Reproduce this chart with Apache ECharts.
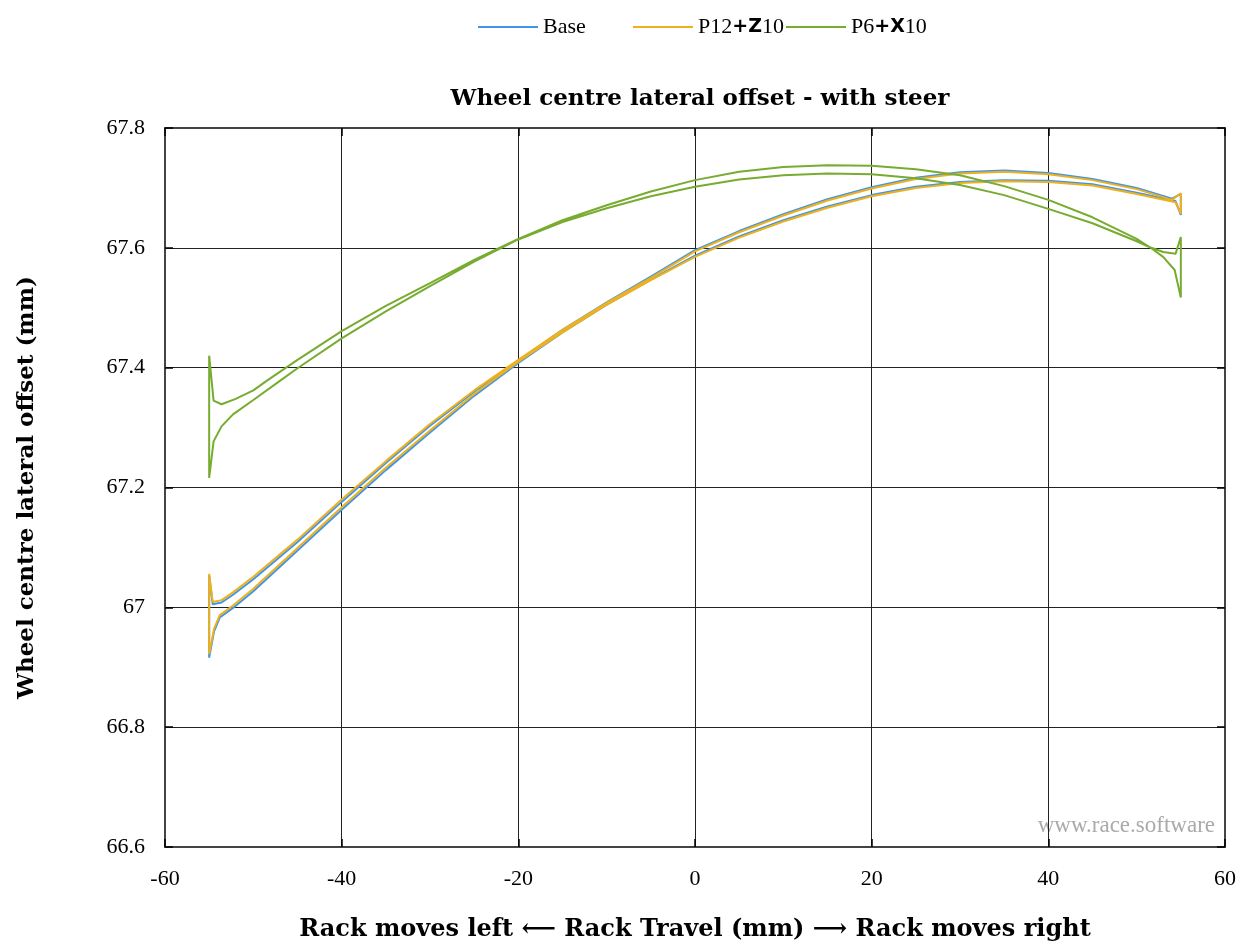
<!DOCTYPE html>
<html>
<head>
<meta charset="utf-8">
<script src="https://cdn.jsdelivr.net/npm/echarts@6/dist/echarts.min.js"></script>
<style>html,body{margin:0;padding:0;background:#fff}#c{width:1242px;height:947px}</style>
</head>
<body>
<div id="c"></div>
<script>
// Base loop: upper branch (left to right), then lower branch (right to left)
const baseUpperX = [-55, -54.6, -53.6, -52.3, -50, -45, -40, -35, -30, -25, -20, -15, -10, -5, 0, 5, 10, 15, 20, 25, 30, 35, 40, 45, 50, 54, 55];
const baseUpperY = [67.053, 67.005, 67.008, 67.021, 67.047, 67.109, 67.176, 67.241, 67.303, 67.360, 67.412, 67.463, 67.509, 67.552, 67.596, 67.628, 67.656, 67.681, 67.701, 67.717, 67.726, 67.729, 67.725, 67.715, 67.700, 67.682, 67.690];
const baseLowerX = [55, 54.4, 50, 45, 40, 35, 30, 25, 20, 15, 10, 5, 0, -5, -10, -15, -20, -25, -30, -35, -40, -45, -50, -52.3, -53.8, -54.45, -55];
const baseLowerY = [67.655, 67.678, 67.692, 67.706, 67.712, 67.713, 67.710, 67.702, 67.688, 67.669, 67.646, 67.619, 67.587, 67.547, 67.505, 67.459, 67.408, 67.353, 67.292, 67.229, 67.163, 67.095, 67.027, 66.999, 66.983, 66.960, 66.916];

// P12+Z10 loop (same rack positions as Base)
const p12UpperY = [67.056, 67.009, 67.012, 67.025, 67.051, 67.113, 67.180, 67.244, 67.306, 67.362, 67.413, 67.463, 67.508, 67.550, 67.594, 67.626, 67.654, 67.679, 67.699, 67.715, 67.724, 67.727, 67.723, 67.713, 67.698, 67.680, 67.691];
const p12LowerY = [67.657, 67.676, 67.690, 67.704, 67.710, 67.711, 67.708, 67.700, 67.686, 67.667, 67.644, 67.617, 67.585, 67.546, 67.505, 67.459, 67.410, 67.356, 67.295, 67.233, 67.167, 67.099, 67.031, 67.003, 66.987, 66.964, 66.922];

// P6+X10 loop
const p6UpperX = [-55, -54.5, -53.6, -52, -50, -48.5, -45, -40, -35, -30, -25, -20, -15, -10, -5, 0, 5, 10, 15, 20, 25, 30, 35, 40, 45, 50, 51.5, 53, 54.3, 55];
const p6UpperY = [67.420, 67.345, 67.339, 67.348, 67.362, 67.378, 67.413, 67.461, 67.503, 67.541, 67.580, 67.615, 67.646, 67.671, 67.694, 67.713, 67.727, 67.735, 67.738, 67.737, 67.731, 67.721, 67.703, 67.680, 67.651, 67.615, 67.601, 67.585, 67.563, 67.517];
const p6LowerX = [55, 54.4, 53, 51.5, 50, 45, 40, 35, 30, 25, 20, 15, 10, 5, 0, -5, -10, -15, -20, -25, -30, -35, -40, -45, -46.8, -50, -52.3, -53.6, -54.5, -55];
const p6LowerY = [67.618, 67.590, 67.593, 67.601, 67.611, 67.641, 67.665, 67.688, 67.705, 67.716, 67.723, 67.724, 67.721, 67.714, 67.702, 67.686, 67.666, 67.643, 67.614, 67.577, 67.536, 67.494, 67.449, 67.399, 67.380, 67.346, 67.322, 67.302, 67.277, 67.216];

const seriesNames = ['Base', 'P12+Z10', 'P6+X10'];
const seriesColors = ['#3f95e8', '#edb120', '#77ac30'];
const xTicks = {min: -60, max: 60, step: 20};
const yTicks = {min: 66.6, max: 67.8, step: 0.2};

function loop(ux, uy, lx, ly) {
  const pts = [];
  ux.forEach((x, i) => pts.push([x, uy[i]]));
  lx.forEach((x, i) => pts.push([x, ly[i]]));
  pts.push([ux[0], uy[0]]);
  return pts;
}

const serif = 'Liberation Serif';
const boldSerif = 'DejaVu Serif';
const chart = echarts.init(document.getElementById('c'), null, {renderer: 'canvas'});

function legendFor(i, left) {
  return {
    left: left, top: 16, padding: 0, itemWidth: 60, itemHeight: 2, icon: 'rect',
    data: [seriesNames[i]],
    formatter: function (n) {
      if (n === 'P12+Z10') return '{a|P12}{b|+Z}{a|10}';
      if (n === 'P6+X10') return '{a|P6}{b|+X}{a|10}';
      return '{a|' + n + '}';
    },
    textStyle: {
      rich: {
        a: {fontFamily: serif, fontSize: 22, color: '#000'},
        b: {fontFamily: 'DejaVu Sans', fontSize: 19, fontWeight: 'bold', color: '#000'}
      }
    }
  };
}

const axisLineStyle = {color: '#444', width: 2};
const tickStyle = {color: '#000', width: 1.5};

chart.setOption({
  animation: false,
  backgroundColor: '#fff',
  title: {
    text: 'Wheel centre lateral offset - with steer',
    left: 695, top: 83, textAlign: 'center',
    textStyle: {fontFamily: boldSerif, fontWeight: 'bold', fontSize: 23, color: '#000'}
  },
  legend: [legendFor(0, 478), legendFor(1, 633), legendFor(2, 786)],
  grid: {left: 165, right: 17, top: 128, bottom: 99},
  xAxis: [{
    type: 'value', min: xTicks.min, max: xTicks.max, interval: xTicks.step,
    name: 'Rack moves left \u27f5 Rack Travel (mm) \u27f6 Rack moves right',
    nameLocation: 'middle', nameGap: 71,
    nameTextStyle: {fontFamily: boldSerif, fontWeight: 'bold', fontSize: 24, color: '#000'},
    axisLine: {show: true, onZero: false, lineStyle: axisLineStyle},
    axisTick: {show: true, inside: true, length: 8, lineStyle: tickStyle},
    axisLabel: {fontFamily: serif, fontSize: 22, color: '#000', margin: 21},
    splitLine: {show: true, lineStyle: {color: '#222', width: 1}}
  }, {
    type: 'value', position: 'top', min: xTicks.min, max: xTicks.max, interval: xTicks.step,
    axisLine: {show: true, onZero: false, lineStyle: axisLineStyle},
    axisTick: {show: true, inside: true, length: 8, lineStyle: tickStyle},
    axisLabel: {show: false}, splitLine: {show: false}
  }],
  yAxis: [{
    type: 'value', min: yTicks.min, max: yTicks.max, interval: yTicks.step,
    name: 'Wheel centre lateral offset (mm)',
    nameLocation: 'middle', nameGap: 126,
    nameTextStyle: {fontFamily: boldSerif, fontWeight: 'bold', fontSize: 23, color: '#000'},
    axisLine: {show: true, onZero: false, lineStyle: axisLineStyle},
    axisTick: {show: true, inside: true, length: 8, lineStyle: tickStyle},
    axisLabel: {fontFamily: serif, fontSize: 22, color: '#000', margin: 20},
    splitLine: {show: true, lineStyle: {color: '#222', width: 1}}
  }, {
    type: 'value', position: 'right', min: yTicks.min, max: yTicks.max, interval: yTicks.step,
    axisLine: {show: true, onZero: false, lineStyle: axisLineStyle},
    axisTick: {show: true, inside: true, length: 8, lineStyle: tickStyle},
    axisLabel: {show: false}, splitLine: {show: false}
  }],
  graphic: [{
    type: 'text', right: 27, top: 814, z: 0,
    style: {text: 'www.race.software', fontFamily: serif, fontSize: 23, fill: '#aaa'}
  }],
  series: [
    {name: seriesNames[0], type: 'line', showSymbol: false, symbol: 'none', color: seriesColors[0],
     lineStyle: {width: 2}, data: loop(baseUpperX, baseUpperY, baseLowerX, baseLowerY)},
    {name: seriesNames[1], type: 'line', showSymbol: false, symbol: 'none', color: seriesColors[1],
     lineStyle: {width: 2}, data: loop(baseUpperX, p12UpperY, baseLowerX, p12LowerY)},
    {name: seriesNames[2], type: 'line', showSymbol: false, symbol: 'none', color: seriesColors[2],
     lineStyle: {width: 2}, data: loop(p6UpperX, p6UpperY, p6LowerX, p6LowerY)}
  ]
});
</script>
</body>
</html>
